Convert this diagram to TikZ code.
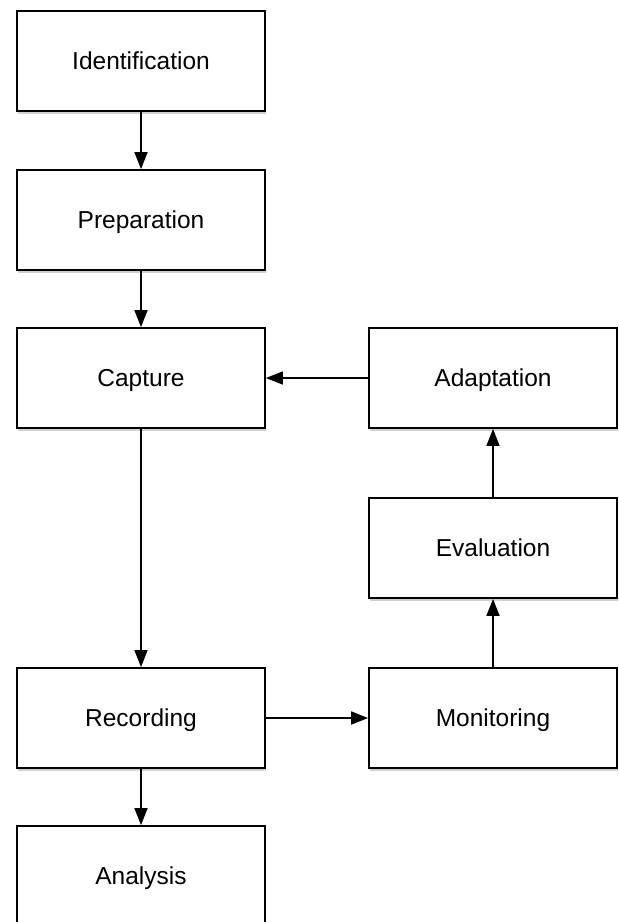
\documentclass[tikz,border=0pt]{standalone}
\usepackage{fontspec}
\setmainfont{Liberation Sans}
\usetikzlibrary{arrows.meta,shadows}
\begin{document}
\begin{tikzpicture}[x=1pt,y=-1pt,
  box/.style={draw=black, line width=1.8pt, fill=white, minimum width=248pt, minimum height=100pt, inner sep=0pt, font=\fontsize{24.5}{28}\selectfont,
    text depth=0pt,
    drop shadow={shadow xshift=0.5pt, shadow yshift=-2.5pt, opacity=0.18, fill=black}},
  conn/.style={line width=1.7pt, -{Triangle[length=17pt,width=13pt]}}]
\useasboundingbox (0,0) rectangle (619,922);
\clip (0,0) rectangle (619,922);
\fill[white] (0,0) rectangle (619,922);
\node[box] (ident) at (141,61) {Identification};
\node[box] (prep) at (141,220) {Preparation};
\node[box] (capt) at (141,378) {Capture};
\node[box] (rec) at (141,718) {Recording};
\node[box] (anal) at (141,876) {Analysis};
\node[box] (adapt) at (493,378) {Adaptation};
\node[box] (eval) at (493,548) {Evaluation};
\node[box] (mon) at (493,718) {Monitoring};
\draw[conn] (ident) -- (prep);
\draw[conn] (prep) -- (capt);
\draw[conn] (capt) -- (rec);
\draw[conn] (rec) -- (anal);
\draw[conn] (rec) -- (mon);
\draw[conn] (mon) -- (eval);
\draw[conn] (eval) -- (adapt);
\draw[conn] (adapt) -- (capt);
\end{tikzpicture}
\end{document}
